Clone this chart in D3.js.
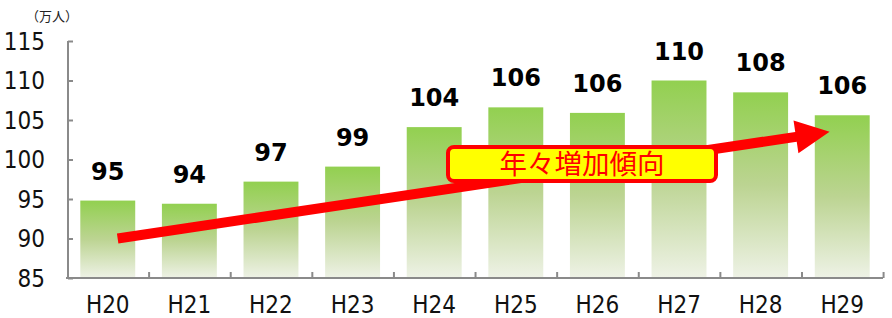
<!DOCTYPE html>
<html><head><meta charset="utf-8">
<script src="https://cdn.jsdelivr.net/npm/d3@7"></script>
<style>
html,body{margin:0;padding:0;background:#fff;}
svg{display:block;}
</style></head>
<body>
<svg id="chart" width="892" height="318"></svg>
<script>
const categories = ["H20","H21","H22","H23","H24","H25","H26","H27","H28","H29"];
const values = [94.8, 94.4, 97.2, 99.1, 104.1, 106.6, 105.9, 110.0, 108.5, 105.6];
const valueLabels = ["95","94","97","99","104","106","106","110","108","106"];
const yTicks = [85, 90, 95, 100, 105, 110, 115];
const unitLabel = "（万人）";
const calloutText = "年々増加傾向";
const trendStart = {cat: "H20", value: 90};
const trendEnd = {cat: "H29", value: 103.5};

(function(){
const svg = d3.select("#chart");
const pLeft = 67, pRight = 883, pTop = 41, pBottom = 278;

const x = d3.scaleBand().domain(categories).range([pLeft, pRight]).paddingInner(0.327).paddingOuter(0.163);
const y = d3.scaleLinear().domain([85, 115]).range([pBottom, pTop]);

const defs = svg.append("defs");
const grad = defs.append("linearGradient").attr("id","barGrad").attr("x1",0).attr("y1",0).attr("x2",0).attr("y2",1);
grad.append("stop").attr("offset","0%").attr("stop-color","#92D050");
grad.append("stop").attr("offset","50%").attr("stop-color","#BCD492");
grad.append("stop").attr("offset","100%").attr("stop-color","#EEF2E6");

// bars
svg.append("g").selectAll("rect").data(categories).join("rect")
  .attr("x", d => x(d))
  .attr("width", x.bandwidth())
  .attr("y", (d,i) => y(values[i]))
  .attr("height", (d,i) => y(85) - y(values[i]))
  .attr("fill", "url(#barGrad)");

// axes
const axisColor = "#8a8a8a";
const yAxis = svg.append("g").attr("transform", `translate(${pLeft+1},0)`)
  .call(d3.axisRight(y).tickValues(yTicks).tickSize(5).tickFormat(""));
yAxis.select(".domain").attr("stroke", axisColor).attr("stroke-width", 2).attr("d", `M0,${pTop}V${pBottom}`);
yAxis.selectAll(".tick line").attr("stroke", axisColor).attr("stroke-width", 2);

svg.append("g").selectAll("text").data(yTicks).join("text")
  .attr("x", 45).attr("y", d => y(d) + 8.5)
  .attr("text-anchor", "end")
  .attr("font-family", "'Liberation Sans Narrow','Arial Narrow','DejaVu Sans Condensed',sans-serif")
  .attr("font-size", 24).attr("fill", "#111")
  .text(d => d);

// x axis with ticks at band boundaries
const step = x.step();
const boundaries = d3.range(categories.length + 1).map(i => pLeft + i * step);
const xb = d3.scaleLinear().domain([pLeft, pRight]).range([pLeft, pRight]);
const xAxis = svg.append("g").attr("transform", `translate(0,${pBottom})`)
  .call(d3.axisTop(xb).tickValues(boundaries.slice(1)).tickSize(6).tickFormat(""));
xAxis.select(".domain").attr("stroke", axisColor).attr("stroke-width", 2).attr("d", `M${pLeft-1},0H${pRight}`);
xAxis.selectAll(".tick line").attr("stroke", axisColor).attr("stroke-width", 2);

svg.append("g").selectAll("text").data(categories).join("text")
  .attr("x", d => x(d) + x.bandwidth()/2).attr("y", 313)
  .attr("text-anchor", "middle")
  .attr("font-family", "'Liberation Sans Narrow','Arial Narrow','DejaVu Sans Condensed',sans-serif")
  .attr("font-size", 24).attr("fill", "#111")
  .text(d => d);

// unit
svg.append("text").attr("x", 52).attr("y", 21).attr("text-anchor","middle")
  .attr("font-family","'Noto Sans CJK JP',sans-serif").attr("font-size", 13).attr("fill","#222")
  .text(unitLabel);

// trend arrow
const sx = x(trendStart.cat) + x.bandwidth()*0.68, sy = y(trendStart.value);
const ex = x(trendEnd.cat) + x.bandwidth()*0.27, ey = y(trendEnd.value);
const ang = Math.atan2(ey - sy, ex - sx);
const len = Math.hypot(ex - sx, ey - sy);
const hw = 5, headLen = 34, headHW = 16.5;
const pts = [[0,-hw],[len-headLen,-hw],[len-headLen,-headHW],[len,0],[len-headLen,headHW],[len-headLen,hw],[0,hw]];
svg.append("polygon")
  .attr("points", pts.map(p => p.join(",")).join(" "))
  .attr("transform", `translate(${sx},${sy}) rotate(${ang*180/Math.PI})`)
  .attr("fill", "#FF0000");

// value labels
svg.append("g").selectAll("text").data(categories).join("text")
  .attr("x", d => x(d) + x.bandwidth()/2)
  .attr("y", (d,i) => y(values[i]) - 21)
  .attr("text-anchor","middle")
  .attr("font-family","'DejaVu Sans',sans-serif").attr("font-weight","bold")
  .attr("font-size", 24).attr("fill","#000")
  .text((d,i) => valueLabels[i]);

// callout
const cg = svg.append("g");
cg.append("rect").attr("x", 448).attr("y", 147).attr("width", 268).attr("height", 34)
  .attr("rx", 6).attr("fill", "#FFFF00").attr("stroke", "#FF0000").attr("stroke-width", 4);
cg.append("text").attr("x", 582).attr("y", 174).attr("text-anchor","middle")
  .attr("font-family","'Noto Sans CJK JP',sans-serif").attr("font-size", 27.5).attr("fill","#FF0000")
  .text(calloutText);
})();
</script>
</body></html>
